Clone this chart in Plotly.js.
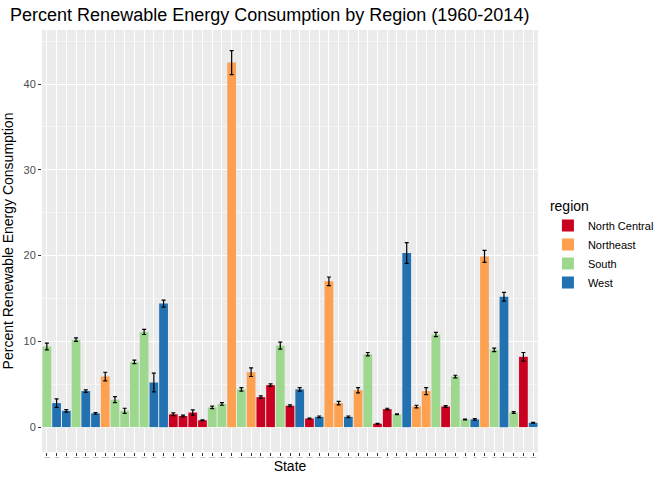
<!DOCTYPE html>
<html><head><meta charset="utf-8">
<script src="https://cdn.plot.ly/plotly-3.0.1.min.js"></script>
<style>body{margin:0}</style></head>
<body><div id="chart" style="width:672px;height:480px"></div>
<script>
const states = ["Alabama","Alaska","Arizona","Arkansas","California","Colorado","Connecticut","Delaware","District of Columbia","Florida","Georgia","Hawaii","Idaho","Illinois","Indiana","Iowa","Kansas","Kentucky","Louisiana","Maine","Maryland","Massachusetts","Michigan","Minnesota","Mississippi","Missouri","Montana","Nebraska","Nevada","New Hampshire","New Jersey","New Mexico","New York","North Carolina","North Dakota","Ohio","Oklahoma","Oregon","Pennsylvania","Rhode Island","South Carolina","South Dakota","Tennessee","Texas","Utah","Vermont","Virginia","Washington","West Virginia","Wisconsin","Wyoming"];
const regions = ["South","West","West","South","West","West","Northeast","South","South","South","South","West","West","North Central","North Central","North Central","North Central","South","South","Northeast","South","Northeast","North Central","North Central","South","North Central","West","North Central","West","Northeast","Northeast","West","Northeast","South","North Central","North Central","South","West","Northeast","Northeast","South","North Central","South","South","West","Northeast","South","West","South","North Central","West"];
const pct = [9.4,2.8,1.9,10.2,4.2,1.6,5.9,3.2,1.9,7.6,11.1,5.2,14.4,1.5,1.3,1.7,0.8,2.3,2.7,42.5,4.4,6.4,3.5,4.9,9.5,2.5,4.4,1.0,1.2,17.0,2.8,1.2,4.3,8.5,0.4,2.1,1.5,20.3,2.4,4.2,10.8,2.4,5.9,0.9,0.9,19.9,9.0,15.2,1.7,8.2,0.5];
const se = [0.4,0.5,0.15,0.2,0.15,0.1,0.5,0.35,0.3,0.2,0.3,1.1,0.4,0.15,0.1,0.3,0.05,0.15,0.15,1.4,0.2,0.5,0.15,0.15,0.4,0.1,0.2,0.05,0.1,0.5,0.2,0.1,0.3,0.2,0.05,0.1,0.05,1.2,0.15,0.4,0.25,0.1,0.15,0.05,0.1,0.7,0.2,0.5,0.1,0.5,0.05];
const regionNames = ["North Central","Northeast","South","West"];
const colors = ["#CA0020","#FDA050","#9ED88F","#2271B0"];

let traces = regionNames.map((r, i) => {
    let idx = states.map((s, j) => j).filter(j => regions[j] === r);
    return {
        type: "bar",
        name: r,
        x: idx.map(j => states[j]),
        y: idx.map(j => pct[j]),
        width: 0.9,
        marker: {color: colors[i]},
        error_y: {type: "data", array: idx.map(j => se[j]), color: "black", thickness: 1.2, width: 2}
    };
});

let layout = {
    margin: {l: 42, r: 134, t: 30, b: 28},
    paper_bgcolor: "white",
    plot_bgcolor: "#EBEBEB",
    barmode: "overlay",
    font: {family: "Liberation Sans, Arial", color: "#000"},
    title: {text: "Percent Renewable Energy Consumption by Region (1960-2014)", x: 0.015, xanchor: "left", y: 0.983, font: {size: 18}},
    xaxis: {
        title: {text: "State", font: {size: 14}, standoff: 2},
        type: "category", categoryorder: "array", categoryarray: states,
        tickfont: {size: 1.5, color: "#4D4D4D"}, tickangle: 0,
        ticks: "outside", ticklen: 3, tickcolor: "#333",
        showgrid: true, gridcolor: "white", gridwidth: 1.3, zeroline: false
    },
    yaxis: {
        title: {text: "Percent Renewable Energy Consumption", font: {size: 14}, standoff: 6},
        range: [-2.9, 46.3], tickvals: [0,10,20,30,40],
        tickfont: {size: 11, color: "#4D4D4D"},
        ticks: "outside", ticklen: 3, tickcolor: "#333",
        gridcolor: "white", gridwidth: 1.3, zeroline: false,
        minor: {tickvals: [5,15,25,35,45], showgrid: true, gridcolor: "#F5F5F5", gridwidth: 0.6}
    },
    legend: {x: 1.02, y: 0.49, yanchor: "middle", title: {text: "region", font: {size: 14}}, font: {size: 11}, tracegroupgap: 10, itemwidth: 30},
    showlegend: true
};

Plotly.newPlot("chart", traces, layout, {displayModeBar: false});
</script></body></html>
